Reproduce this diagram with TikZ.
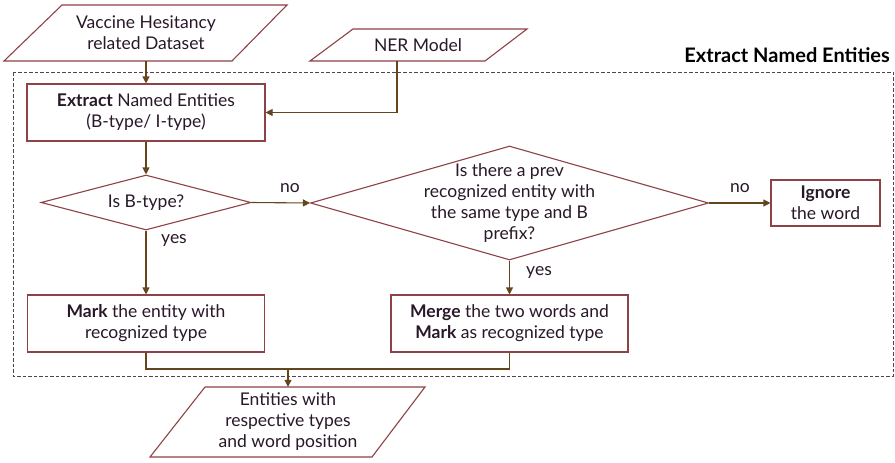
\documentclass[tikz,border=0pt]{standalone}
\usepackage{fontspec}
\setmainfont{Lato}
\usetikzlibrary{shapes.geometric,arrows.meta}
\definecolor{bordc}{RGB}{142,66,70}
\definecolor{arrc}{RGB}{100,70,30}
\definecolor{txtc}{RGB}{40,24,40}
\definecolor{framec}{RGB}{85,64,80}
\newcommand{\mainsz}{\fontsize{17.5}{21}\selectfont}
\begin{document}
\begin{tikzpicture}[x=1pt,y=-1pt,
  box/.style={draw=bordc, line width=1.1pt, fill=white, align=center, inner sep=0pt, text=txtc, font=\mainsz},
  ptext/.style={align=center, inner sep=0pt, text=txtc, font=\mainsz},
  pborder/.style={draw=bordc, line width=1.1pt, line join=miter},
  dia/.style={diamond, draw=bordc, line width=1.1pt, inner sep=0pt, aspect=3.6},
  dtext/.style={align=center, text=txtc, font=\mainsz},
  flow/.style={draw=arrc, line width=1.1pt, -{Triangle[length=7pt,width=7pt]}},
  plainline/.style={draw=arrc, line width=1.1pt},
  lbl/.style={text=txtc, font=\mainsz, inner sep=0pt},
  framebox/.style={draw=framec, line width=0.9pt, dash pattern=on 3.5pt off 2pt}
]
\useasboundingbox (0,0) rectangle (895,463);
\fill[white] (0,0) rectangle (895,463);

% frame and title
\draw[framebox] (13,72) rectangle (893,376);
\node[anchor=east, font=\fontsize{20}{24}\selectfont\bfseries, text=black, inner sep=0pt] (title) at (890,55) {Extract Named Entities};

% parallelograms
\draw[pborder] (62,5) -- (287,5) -- (232,61) -- (4,61) -- cycle;
\node[ptext, minimum width=220, minimum height=56] (data) at (146,33) {Vaccine Hesitancy\\related Dataset};

\draw[pborder] (353,29) -- (527,29) -- (485,61) -- (310,61) -- cycle;
\node[ptext, minimum width=170, minimum height=32] (ner) at (418,45) {NER Model};

\draw[pborder] (205,387) -- (425,387) -- (372,457) -- (150,457) -- cycle;
\node[ptext, minimum width=200, minimum height=70] (out) at (288,422) {Entities with\\respective types\\and word position};

% boxes
\node[box, minimum width=238, minimum height=57] (extract) at (146,112.5) {\textbf{Extract} Named Entities\\(B-type/ I-type)};
\node[box, minimum width=237, minimum height=57] (mark) at (146,323.5) {\textbf{Mark} the entity with\\recognized type};
\node[box, minimum width=237, minimum height=57] (merge) at (509.5,323.5) {\textbf{Merge} the two words and\\\textbf{Mark} as recognized type};
\node[box, minimum width=109, minimum height=46] (ignore) at (825.5,203) {\textbf{Ignore}\\the word};

% diamonds
\node[dia, minimum width=210, minimum height=55] (d1) at (146,202.5) {};
\node[dtext] (d1t) at (d1.center) {Is B-type?};
\node[dia, minimum width=398, minimum height=114] (d2) at (509.5,203) {};
\node[dtext] (d2t) at (d2.center) {Is there a prev\\recognized entity with\\the same type and B\\prefix?};

% connectors
\draw[flow] (data.south) -- (extract.north);
\draw[flow] ([xshift=-21pt]ner.south) |- (extract.east);
\draw[flow] (extract.south) -- (d1.north);
\draw[flow] (d1.east) -- (d2.west);
\draw[flow] (d2.east) -- (ignore.west);
\draw[flow] (d1.south) -- (mark.north);
\draw[flow] (d2.south) -- (merge.north);
\coordinate (join) at (288,369);
\draw[plainline] (mark.south) |- (join) -| (merge.south);
\draw[flow] (join) -- (out.north);

% labels
\node[lbl] (no1) at (290,188) {no};
\node[lbl] (no2) at (740,188) {no};
\node[lbl] (yes1) at (174,240) {yes};
\node[lbl] (yes2) at (539,272) {yes};
\end{tikzpicture}
\end{document}
